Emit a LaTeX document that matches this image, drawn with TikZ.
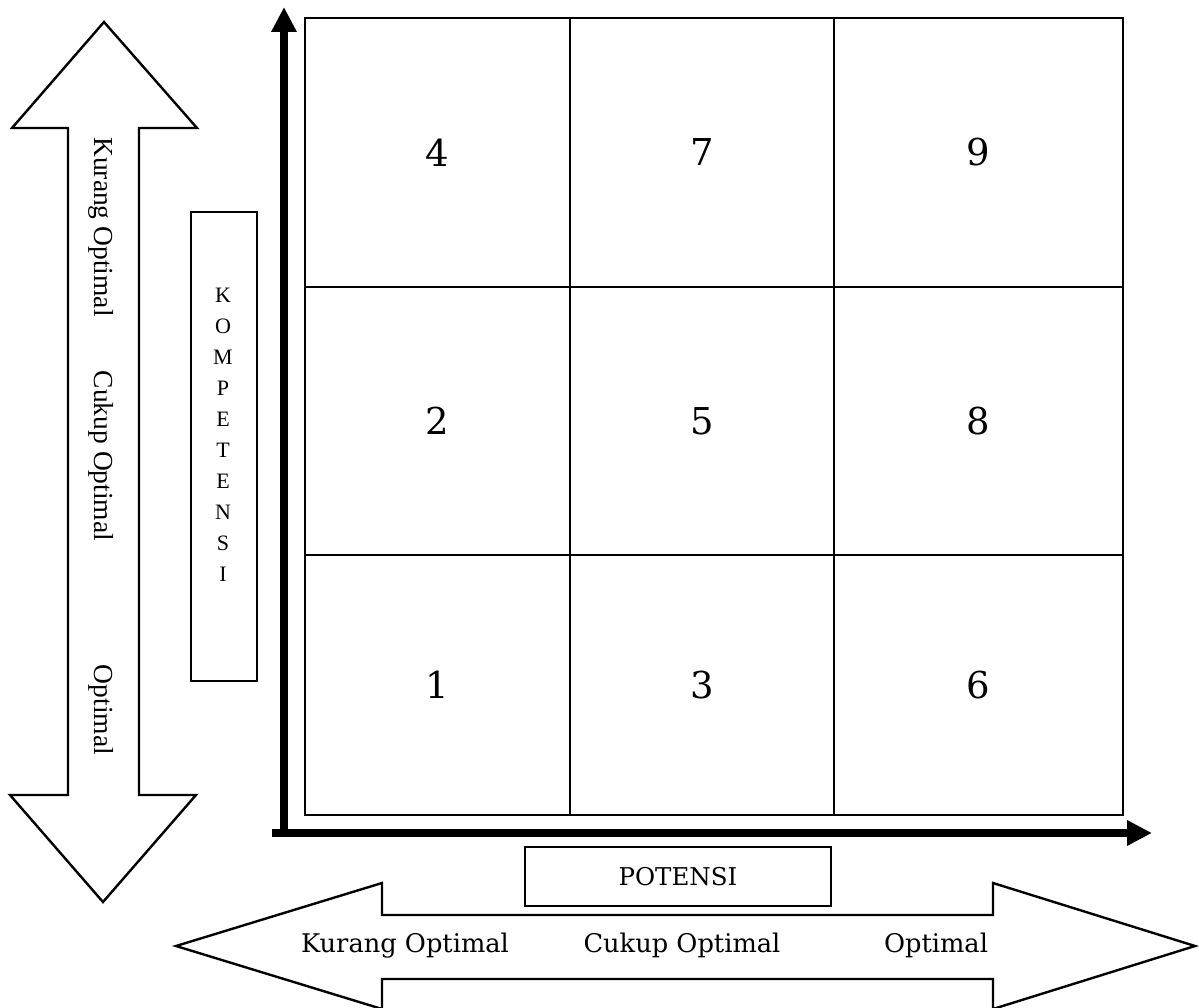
\documentclass[tikz,border=0pt]{standalone}
\usepackage{fontspec}
\setmainfont{DejaVu Serif}
\newfontfamily\timesfont{Liberation Serif}
\usetikzlibrary{arrows.meta}

\tikzset{
  cell/.style={draw, line width=2pt, rectangle, inner sep=0pt, outer sep=0pt,
               font=\fontsize{37}{40}\selectfont},
  labelbox/.style={draw, line width=2.4pt, rectangle, inner sep=0pt, outer sep=0pt},
  axis/.style={line width=8pt, -{Triangle[length=25pt,width=24pt]}},
  bigarrow/.style={draw, line width=2.4pt, line join=miter, fill=white},
  vlabel/.style={font=\timesfont\fontsize{27.5}{30}\selectfont, rotate=-90, inner sep=0pt},
  hlabel/.style={font=\fontsize{25.7}{28}\selectfont, anchor=base, inner sep=0pt}
}

\begin{document}
\begin{tikzpicture}[x=1pt,y=-1pt]
  \useasboundingbox[fill=white] (0,0) rectangle (1199,1008);

  % vertical double arrow (left)
  \draw[bigarrow] (104,22) -- (197,128) -- (139,128) -- (139,795) -- (196,795)
    -- (103,902) -- (10,795) -- (68,795) -- (68,128) -- (12,128) -- cycle;
  \node[vlabel] (vkurang) at (101,227) {Kurang Optimal};
  \node[vlabel] (vcukup)  at (101,456) {Cukup Optimal};
  \node[vlabel] (vopt)    at (101,710) {Optimal};

  % horizontal double arrow (bottom)
  \draw[bigarrow] (176,946) -- (382,883) -- (382,915) -- (993,915) -- (993,883)
    -- (1195,946) -- (993,1009) -- (993,979) -- (382,979) -- (382,1009) -- cycle;
  \node[hlabel] (hkurang) at (405,952) {Kurang Optimal};
  \node[hlabel] (hcukup)  at (682,952) {Cukup Optimal};
  \node[hlabel] (hopt)    at (936,952) {Optimal};

  % axis title boxes
  \node[labelbox, minimum width=66pt, minimum height=469pt] (kompbox) at (224,446.5) {};
  \node[font=\timesfont\fontsize{22}{31}\selectfont, align=center, inner sep=0pt]
    (komptext) at (223,435) {K\\O\\M\\P\\E\\T\\E\\N\\S\\I};
  \node[labelbox, minimum width=306pt, minimum height=59pt,
        font=\fontsize{24.5}{27}\selectfont] (potbox) at (678,876.5) {POTENSI};

  % 3x3 grid of cells
  \node[cell, minimum width=265pt, minimum height=269pt] (c4) at (437.5,152.5) {4};
  \node[cell, minimum width=264pt, minimum height=269pt] (c7) at (702,152.5) {7};
  \node[cell, minimum width=289pt, minimum height=269pt] (c9) at (978.5,152.5) {9};
  \node[cell, minimum width=265pt, minimum height=268pt] (c2) at (437.5,421) {2};
  \node[cell, minimum width=264pt, minimum height=268pt] (c5) at (702,421) {5};
  \node[cell, minimum width=289pt, minimum height=268pt] (c8) at (978.5,421) {8};
  \node[cell, minimum width=265pt, minimum height=260pt] (c1) at (437.5,685) {1};
  \node[cell, minimum width=264pt, minimum height=260pt] (c3) at (702,685) {3};
  \node[cell, minimum width=289pt, minimum height=260pt] (c6) at (978.5,685) {6};

  % axes
  \coordinate (yfoot) at (284,837);
  \coordinate (ytip)  at (284,7);
  \coordinate (xfoot) at (272,833);
  \coordinate (xtip)  at (1152,833);
  \draw[axis] (yfoot) -- (ytip);
  \draw[axis] (xfoot) -- (xtip);
\end{tikzpicture}
\end{document}
